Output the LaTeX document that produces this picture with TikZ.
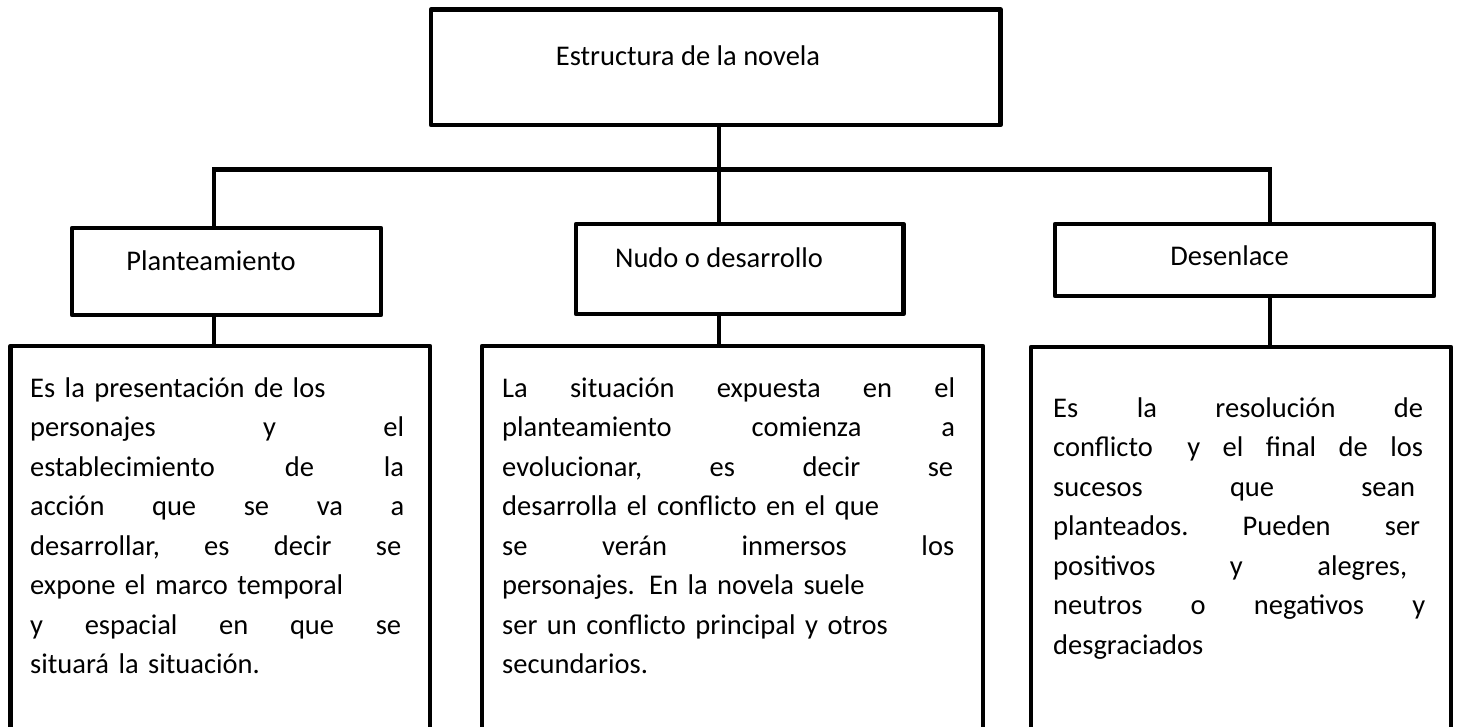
\documentclass[tikz,border=0pt]{standalone}
\usepackage{fontspec}
\setmainfont{Carlito}
\newcommand{\jline}[2]{\leavevmode\hbox to #1{#2}}
\begin{document}
\begin{tikzpicture}[x=1pt,y=-1pt,
  box/.style={draw=black,line width=4.5pt,rectangle,inner sep=0pt,line join=round},
  lbl/.style={anchor=base,inner sep=0pt,font=\fontsize{28.5}{39.5}\selectfont},
  para/.style={anchor=base west,inner sep=0pt,align=left,font=\fontsize{28.5}{39.5}\selectfont},
  conn/.style={draw=black,line width=4.5pt}]
\useasboundingbox (0,0) rectangle (1460,726);
\clip (0,0) rectangle (1460,726);
\fill[white] (0,0) rectangle (1460,726);

% boxes
\node[box,minimum width=569.5pt,minimum height=115.5pt] (top) at (715.75,67.25) {};
\node[box,minimum width=309pt,minimum height=87pt] (plan) at (226.5,271.5) {};
\node[box,minimum width=327.5pt,minimum height=90pt] (nudo) at (739.75,269) {};
\node[box,minimum width=379pt,minimum height=72pt] (des) at (1244.5,260) {};
\node[box,minimum width=419.5pt,minimum height=424pt] (c1) at (220.25,558) {};
\node[box,minimum width=501pt,minimum height=424pt] (c2) at (732.5,558) {};
\node[box,minimum width=420pt,minimum height=423pt] (c3) at (1241,558.5) {};

% labels
\node[lbl] (ttop) at (688,65) {Estructura de la novela};
\node[lbl] (tplan) at (211,270) {Planteamiento};
\node[lbl] (tnudo) at (719,267) {Nudo o desarrollo};
\node[lbl] (tdes) at (1229.5,265) {Desenlace};

% connectors
\coordinate (busL) at (214,169.5);
\coordinate (busM) at (719,169.5);
\coordinate (busR) at (1270,169.5);
\draw[conn] (busL |- plan.north) -- (busL) -- (busR) -- (busR |- des.north);
\draw[conn] (top.south -| busM) -- (nudo.north -| busM);
\draw[conn] (plan.south -| busL) -- (c1.north -| busL);
\draw[conn] (nudo.south -| busM) -- (c2.north -| busM);
\draw[conn] (des.south -| busR) -- (c3.north -| busR);

% paragraphs
\node[para,text width=374pt] (p1) at (30,397) {%
Es la presentación de los\\
\jline{374pt}{personajes\hfill y\hfill el}\\
\jline{374pt}{establecimiento\hfill de\hfill la}\\
\jline{374pt}{acción\hfill que\hfill se\hfill va\hfill a}\\
\jline{371pt}{desarrollar,\hfill es\hfill decir\hfill se}\\
expone el marco temporal\\
\jline{371pt}{y\hfill espacial\hfill en\hfill que\hfill se}\\
situará la situación.};

\node[para,text width=453pt] (p2) at (502,397) {%
\jline{453pt}{La\hfill situación\hfill expuesta\hfill en\hfill el}\\
\jline{453pt}{planteamiento\hfill comienza\hfill a}\\
\jline{451pt}{evolucionar,\hfill es\hfill decir\hfill se}\\
desarrolla el conflicto en el que\\
\jline{452pt}{se\hfill verán\hfill inmersos\hfill los}\\
personajes. En la novela suele\\
ser un conflicto principal y otros\\
secundarios.};

\node[para,text width=370pt] (p3) at (1053,417) {%
\jline{370pt}{Es\hfill la\hfill resolución\hfill de}\\
\jline{370pt}{conflicto\hspace{12pt}\hfill y\hfill el\hfill final\hfill de\hfill los}\\
\jline{362pt}{sucesos\hfill que\hfill sean}\\
\jline{367pt}{planteados.\hfill Pueden\hfill ser}\\
\jline{354pt}{positivos\hfill y\hfill alegres,}\\
\jline{372pt}{neutros\hfill o\hfill negativos\hfill y}\\
desgraciados};
\end{tikzpicture}
\end{document}
